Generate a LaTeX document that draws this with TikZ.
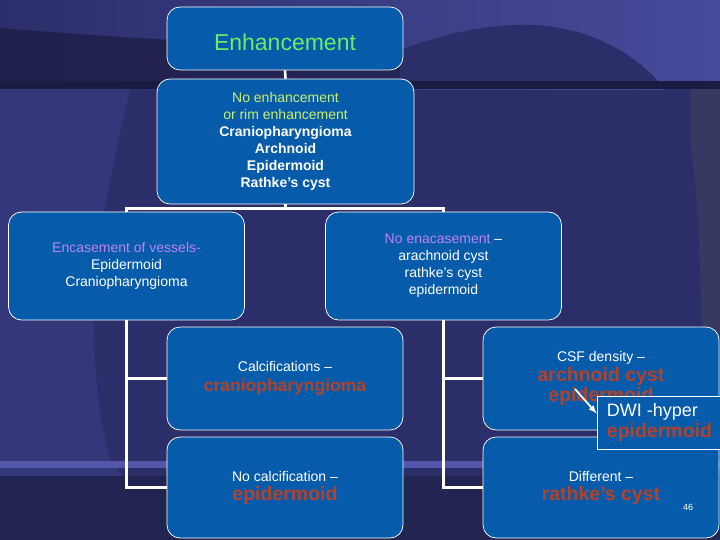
\documentclass[tikz,border=0pt]{standalone}
\usepackage{fontspec}
\setmainfont{Liberation Sans}

\definecolor{boxblue}{RGB}{6,92,170}
\definecolor{enhgreen}{RGB}{110,235,100}
\definecolor{limetxt}{RGB}{205,238,110}
\definecolor{violettxt}{RGB}{186,132,240}
\definecolor{redtxt}{RGB}{178,66,42}
\definecolor{bgbase}{RGB}{44,46,106}
\definecolor{bgtop}{RGB}{72,74,156}
\definecolor{bgdark}{RGB}{26,27,64}
\definecolor{bggrid}{RGB}{52,55,122}
\definecolor{bgside}{RGB}{56,57,98}
\definecolor{bgstripe}{RGB}{84,86,170}
\definecolor{bgbottom}{RGB}{34,36,82}

\tikzset{
  cell/.style={draw=white,fill=boxblue,line width=0.7pt,rounded corners=13pt,align=center,inner sep=0pt,
    text=white,minimum width=236pt,font=\fontsize{14}{17}\selectfont},
  link/.style={draw=white,line width=2.6pt},
}
\newcommand{\redword}[2]{{\fontsize{#1}{#1}\selectfont\color{redtxt}\bfseries #2}}

\begin{document}
\begin{tikzpicture}[>=latex,x=1pt,y=-1pt]
	\useasboundingbox (0,0) rectangle (720,540);\clip (0,0) rectangle (720,540);
	% background
	\fill[bgbase] (0,0) rectangle (720,540);
	\shade[left color=bgbase,right color=bgtop] (0,0) rectangle (720,90);
	\fill[bgdark,opacity=0.7] (0,28) .. controls (120,38) and (260,46) .. (400,50) -- (400,84) -- (0,84) -- cycle;
	\fill[bgbase] (400,50) .. controls (470,24) and (540,14) .. (600,40) .. controls (650,62) and (680,100) .. (690,140) -- (690,84) -- (400,84) -- cycle;
	\fill[bgside] (690,84) -- (690,140) .. controls (700,200) and (702,300) .. (705,540) -- (720,540) -- (720,84) -- cycle;
	\fill[bgdark] (0,81) rectangle (720,89);
	\fill[bggrid] (0,89) -- (130,89) .. controls (105,200) and (75,320) .. (110,460) -- (124,478) -- (0,478) -- cycle;
	\fill[bgstripe] (0,461) rectangle (720,468);
	\fill[bgbottom] (0,476) rectangle (720,540);
	% boxes
	\node[cell,minimum height=63pt] (enh) at (285,38.5) {\raisebox{-4pt}[\height][\depth]{\fontsize{23}{23}\selectfont\color{enhgreen}Enhancement}};
	\node[cell,minimum width=257pt,minimum height=125pt] (noenh) at (285.5,141.5)
		{\color{limetxt}No enhancement\\\color{limetxt}or rim enhancement\\\bfseries Craniopharyngioma\\\bfseries Archnoid\\\bfseries Epidermoid\\\bfseries Rathke's cyst};
	\node[cell,minimum height=108pt] (encase) at (126.5,266) {\color{violettxt}Encasement of vessels-\\Epidermoid\\Craniopharyngioma};
	\node[cell,minimum height=108pt] (noencase) at (443.5,266) {{\color{violettxt}No enacasement} --\\arachnoid cyst\\rathke's cyst\\epidermoid};
	\node[cell,minimum height=103pt] (calc) at (285,378.5) {Calcifications --\\[3pt]\redword{17.5}{craniopharyngioma}};
	\node[cell,minimum height=101pt] (nocalc) at (285,487.5) {No calcification --\\[2pt]\redword{19.5}{epidermoid}};
	\node[cell,minimum height=103pt] (csf) at (601,378.5) {CSF density --\\[2pt]\redword{19.5}{archnoid cyst}\\\redword{19.5}{epidermoid}};
	\node[cell,minimum height=101pt] (diff) at (601,487.5) {Different --\\[2pt]\redword{19.5}{rathke's cyst}};
	\node[draw=white,fill=boxblue,line width=0.7pt,minimum width=125pt,minimum height=53pt,inner sep=0pt,align=left] (dwi) at (659.5,422.5)
		{\fontsize{18}{22}\selectfont\color{white}DWI -hyper\\[3pt]\redword{19.5}{epidermoid}};
	\node[text=white,font=\fontsize{9}{9}\selectfont] (pgnum) at (688,507) {46};
	% connectors
	\coordinate (split) at ([yshift=-4pt]noenh.south);
	\draw[link] (enh.south) -- (noenh.north);\draw[link] (noenh.south) -- (split);
	\draw[link] (encase.north) |- (split) -| (noencase.north);
	\draw[link] (encase.south) |- (calc.west);\draw[link] (encase.south) |- (nocalc.west);
	\draw[link] (noencase.south) |- (csf.west);\draw[link] (noencase.south) |- (diff.west);
	\coordinate (dwitail) at (575,389);
	\draw[->,white,line width=1.8pt] (dwitail) -- ([yshift=9pt]dwi.west);
\end{tikzpicture}
\end{document}
